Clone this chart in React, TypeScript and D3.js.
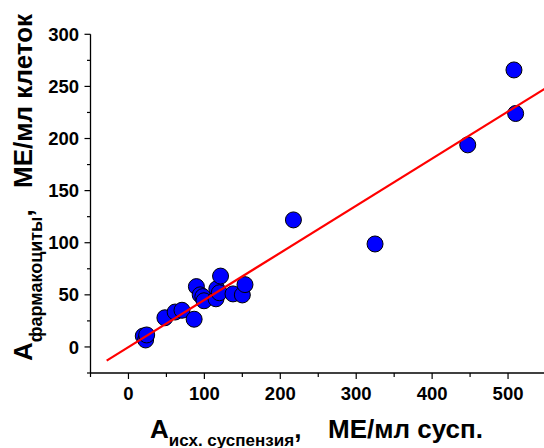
import * as d3 from "d3";

// measured points: x = A исх. суспензия, y = A фармакоциты
const xs = [19.5, 22.6, 24, 48, 61.5, 70.5, 86.5, 89.5, 94.5, 98, 99.5, 115.3, 116.4, 119.7, 121.3, 137.7, 150, 153.5, 217.3, 324.8, 446.9, 507.8, 510];
const ys = [10.5, 6.7, 11.5, 28, 33.5, 35.2, 26.6, 57.9, 50, 48.3, 44.3, 46.2, 55.8, 52, 68, 50.9, 49.9, 59.8, 121.9, 98.8, 193.9, 265.8, 224];

// linear fit y = a + b*x
const fitIntercept = -0.1;
const fitSlope = 0.452;
const fitRange = [-28.7, 560];

const xMajor = [0, 100, 200, 300, 400, 500];
const xMinor = [-50, 50, 150, 250, 350, 450, 550];
const yMajor = [0, 50, 100, 150, 200, 250, 300];
const yMinor = [-25, 25, 75, 125, 175, 225, 275];

const W = 544;
const H = 448;
const font = "'Liberation Sans', Arial, sans-serif";

export default function App() {
  const x = d3.scaleLinear().domain([-50, 550]).range([90.5, 546]);
  const y = d3.scaleLinear().domain([-25, 300]).range([373, 34.3]);

  const points = xs.map((v, i) => ({ x: v, y: ys[i] }));
  const fit = fitRange.map((v) => [x(v), y(fitIntercept + fitSlope * v)] as [number, number]);
  const line = d3.line();

  const x0 = x(-50);
  const y0 = y(-25);

  return (
    <svg width={W} height={H} style={{ position: "absolute", left: 0, top: 0 }} fontFamily={font} fontWeight="bold">
      <rect width={W} height={H} fill="#fff" />

      {/* points */}
      {points.map((d, i) => (
        <circle key={i} cx={x(d.x)} cy={y(d.y)} r={8} fill="#0000ff" stroke="#000" strokeWidth={1} />
      ))}

      {/* fitted line */}
      <path d={line(fit) ?? ""} fill="none" stroke="#ff0000" strokeWidth={2.2} />

      {/* axes */}
      <line x1={x0} x2={W} y1={y0} y2={y0} stroke="#000" strokeWidth={1.3} />
      <line x1={x0} x2={x0} y1={y0} y2={y(300)} stroke="#000" strokeWidth={1.3} />

      {xMajor.map((t) => (
        <g key={"xm" + t}>
          <line x1={x(t)} x2={x(t)} y1={y0} y2={y0 + 6} stroke="#000" strokeWidth={1.2} />
          <text x={x(t)} y={400} textAnchor="middle" fontSize={18.5}>{t}</text>
        </g>
      ))}
      {xMinor.map((t) => (
        <line key={"xn" + t} x1={x(t)} x2={x(t)} y1={y0} y2={y0 + 4} stroke="#000" strokeWidth={1.2} />
      ))}

      {yMajor.map((t) => (
        <g key={"ym" + t}>
          <line x1={x0 - 6} x2={x0} y1={y(t)} y2={y(t)} stroke="#000" strokeWidth={1.2} />
          <text x={79} y={y(t)} dy="0.36em" textAnchor="end" fontSize={18.5}>{t}</text>
        </g>
      ))}
      {yMinor.map((t) => (
        <line key={"yn" + t} x1={x0 - 3.5} x2={x0} y1={y(t)} y2={y(t)} stroke="#000" strokeWidth={1.2} />
      ))}

      {/* x title */}
      <text x={150} y={438} fontSize={26}>
        A<tspan fontSize={17} dy={8}>исх. суспензия</tspan><tspan dy={-8}>,</tspan>
      </text>
      <text x={328} y={438} fontSize={26}>МЕ/мл сусп.</text>

      {/* y title */}
      <text transform="translate(31.5,361) rotate(-90)" fontSize={26}>
        A<tspan fontSize={18} dy={10}>фармакоциты</tspan><tspan dy={-10}>,</tspan>
      </text>
      <text transform="translate(31.5,188) rotate(-90)" fontSize={26}>МЕ/мл клеток</text>
    </svg>
  );
}
